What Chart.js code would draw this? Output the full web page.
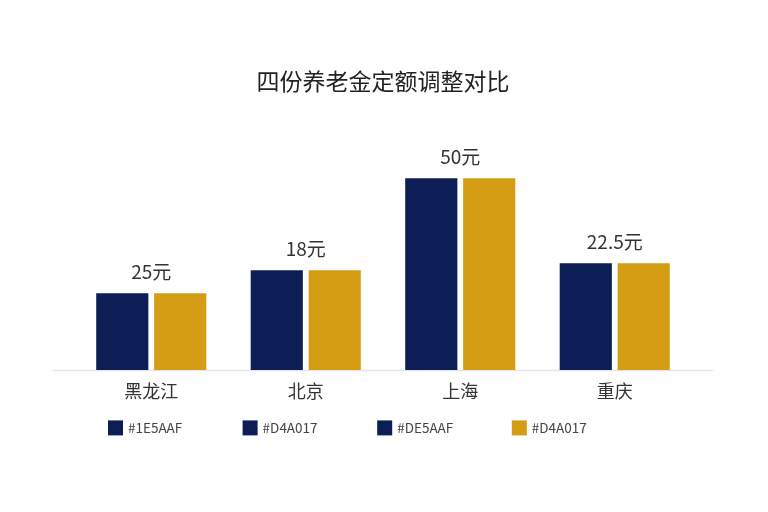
<!DOCTYPE html>
<html lang="zh">
<head>
<meta charset="utf-8">
<title>四份养老金定额调整对比</title>
<script src="https://cdn.jsdelivr.net/npm/chart.js@4.4.1/dist/chart.umd.min.js"></script>
<style>
  html, body { margin: 0; padding: 0; background: #fff; }
  #wrap { width: 768px; height: 512px; }
</style>
</head>
<body>
<div id="wrap"><canvas id="pensionChart"></canvas></div>
<script>
const regions = ['黑龙江', '北京', '上海', '重庆'];
const seriesA = [20, 26, 50, 27.8];
const seriesB = [20, 26, 50, 27.8];
const amountLabels = ['25元', '18元', '50元', '22.5元'];
const legendLabels = ['#1E5AAF', '#D4A017', '#DE5AAF', '#D4A017'];

const NAVY = '#0D1E57';
const GOLD = '#D59D13';
const legendColors = [NAVY, NAVY, NAVY, GOLD];
const FONT = '"Noto Sans CJK SC", "Noto Sans", sans-serif';

// light baseline, a bit wider than the plot area
const baselinePlugin = {
    id: 'baseline',
    beforeDatasetsDraw(chart) {
        const { ctx, chartArea } = chart;
        const y = Math.round(chart.scales.y.getPixelForValue(0)) + 0.5;
        ctx.save();
        ctx.strokeStyle = '#e4e6ea';
        ctx.lineWidth = 1.5;
        ctx.beginPath();
        ctx.moveTo(chartArea.left - 21, y);
        ctx.lineTo(chartArea.right + 21, y);
        ctx.stroke();
        ctx.restore();
    }
};

// amount text centred over each pair of bars
const amountPlugin = {
    id: 'amounts',
    afterDatasetsDraw(chart) {
        const ctx = chart.ctx;
        const a = chart.getDatasetMeta(0).data;
        const b = chart.getDatasetMeta(1).data;
        ctx.save();
        ctx.font = '19px ' + FONT;
        ctx.fillStyle = '#333';
        ctx.textAlign = 'center';
        ctx.textBaseline = 'middle';
        amountLabels.forEach((txt, i) => {
            const x = (a[i].x + b[i].x) / 2;
            const y = Math.min(a[i].y, b[i].y) - 21;
            ctx.fillText(txt, x, y);
        });
        ctx.restore();
    }
};

// legend row in fixed-width cells
const legendRowPlugin = {
    id: 'legendRow',
    afterDraw(chart) {
        const { ctx, chartArea } = chart;
        const step = 134.6;
        const startX = chartArea.left + 34;
        const cy = chartArea.bottom + 58;
        ctx.save();
        ctx.font = '13.5px ' + FONT;
        ctx.textAlign = 'left';
        ctx.textBaseline = 'middle';
        legendLabels.forEach((txt, i) => {
            const x = startX + i * step;
            ctx.fillStyle = legendColors[i];
            ctx.fillRect(x, cy - 7.5, 15, 15);
            ctx.fillStyle = '#444';
            ctx.fillText(txt, x + 20, cy);
        });
        ctx.restore();
    }
};

const ctx = document.getElementById('pensionChart').getContext('2d');
new Chart(ctx, {
    type: 'bar',
    data: {
        labels: regions,
        datasets: [
            { label: '调整前', data: seriesA, backgroundColor: NAVY },
            { label: '调整后', data: seriesB, backgroundColor: GOLD }
        ]
    },
    options: {
        responsive: true,
        maintainAspectRatio: false,
        animation: false,
        categoryPercentage: 0.75,
        barPercentage: 0.9,
        layout: { padding: { top: 40, left: 74, right: 76, bottom: 99.5 } },
        scales: {
            x: {
                grid: { display: false, drawTicks: false },
                border: { display: false },
                ticks: { font: { family: FONT, size: 18 }, color: '#333', padding: 10.5 }
            },
            y: { display: false, min: 0, max: 65 }
        },
        plugins: {
            legend: { display: false },
            tooltip: { enabled: false },
            title: {
                display: true,
                text: '四份养老金定额调整对比',
                color: '#222',
                font: { family: FONT, size: 23, weight: 'normal' },
                padding: { top: 27, bottom: 26 }
            }
        }
    },
    plugins: [baselinePlugin, amountPlugin, legendRowPlugin]
});
</script>
</body>
</html>
